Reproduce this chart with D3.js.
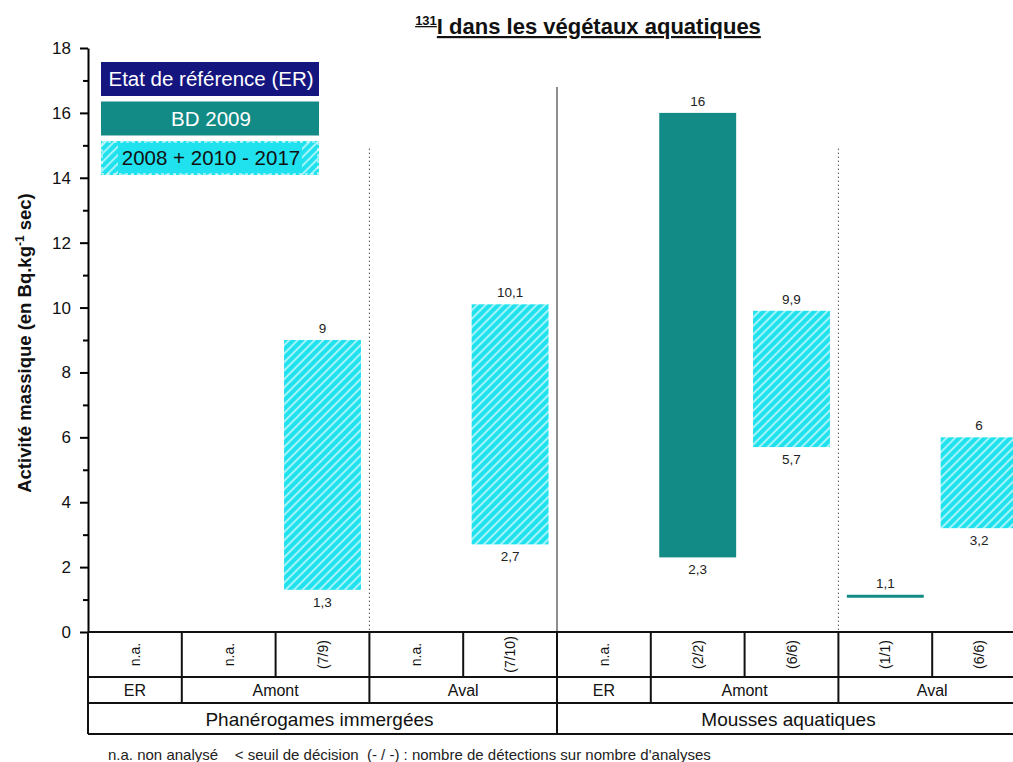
<!DOCTYPE html>
<html>
<head>
<meta charset="utf-8">
<script src="https://cdn.jsdelivr.net/npm/d3@7"></script>
<style>
  body { margin: 0; background: #fff; }
  svg { display: block; font-family: "Liberation Sans", Arial, sans-serif; }
</style>
</head>
<body>
<script>
'use strict';

// one entry per column of the table
const detections = ["n.a.", "n.a.", "(7/9)", "n.a.", "(7/10)", "n.a.", "(2/2)", "(6/6)", "(1/1)", "(6/6)"];
const stations = ["ER", "Amont", "Amont", "Aval", "Aval", "ER", "Amont", "Amont", "Aval", "Aval"];
const groups = ["Phanérogames immergées", "Phanérogames immergées", "Phanérogames immergées", "Phanérogames immergées", "Phanérogames immergées",
  "Mousses aquatiques", "Mousses aquatiques", "Mousses aquatiques", "Mousses aquatiques", "Mousses aquatiques"];
const series = [null, null, "hatch", null, "hatch", null, "bd", "hatch", "bd", "hatch"];
const lows = [null, null, 1.3, null, 2.7, null, 2.3, 5.7, 1.1, 3.2];
const highs = [null, null, 9, null, 10.1, null, 16, 9.9, 1.1, 6];

const legendLabels = ["Etat de référence (ER)", "BD 2009", "2008 + 2010 - 2017"];
const yTicks = [0, 2, 4, 6, 8, 10, 12, 14, 16, 18];
const yMinor = [1, 3, 5, 7, 9, 11, 13, 15, 17];

const colors = { er: "#15157f", bd: "#128a85", hatch: "#20e2ef" };

const W = 1013, H = 762;
const svg = d3.select("body").append("svg").attr("width", W).attr("height", H);

const defs = svg.append("defs");
const pat = defs.append("pattern")
  .attr("id", "hatch")
  .attr("patternUnits", "userSpaceOnUse")
  .attr("width", 6).attr("height", 6)
  .attr("patternTransform", "rotate(45)");
pat.append("rect").attr("width", 6).attr("height", 6).attr("fill", colors.hatch);
pat.append("line").attr("x1", 1).attr("y1", 0).attr("x2", 1).attr("y2", 6)
  .attr("stroke", "#fff").attr("stroke-width", 1.4).attr("opacity", 0.85);

const idx = d3.range(detections.length);
const x = d3.scaleBand().domain(idx).range([88, 88 + 938]).paddingInner(0.18).paddingOuter(0.09);
const y = d3.scaleLinear().domain([0, 18]).range([632, 48]);
const step = x.step();
const colLeft = i => 88 + i * step;

const fmt = v => String(v).replace(".", ",");

// separators between stations / groups
const seps = [
  { at: 3, top: 14.9, dash: "1.5,2.5", w: 1 },
  { at: 5, top: 16.8, dash: null, w: 1.2 },
  { at: 8, top: 14.9, dash: "1.5,2.5", w: 1 }
];
seps.forEach(s => {
  svg.append("line")
    .attr("x1", colLeft(s.at)).attr("x2", colLeft(s.at))
    .attr("y1", y(s.top)).attr("y2", y(0))
    .attr("stroke", s.dash ? "#555" : "#444")
    .attr("stroke-width", s.w)
    .attr("stroke-dasharray", s.dash);
});

// bars
const rows = idx.filter(i => lows[i] !== null);
rows.forEach(i => {
  const bx = x(i), bw = x.bandwidth();
  if (lows[i] === highs[i]) {
    svg.append("line")
      .attr("x1", bx).attr("x2", bx + bw)
      .attr("y1", y(lows[i])).attr("y2", y(lows[i]))
      .attr("stroke", colors.bd).attr("stroke-width", 3);
    svg.append("text")
      .attr("x", bx + bw / 2).attr("y", y(highs[i]) - 8)
      .attr("text-anchor", "middle").attr("font-size", 13.5).attr("fill", "#222")
      .text(fmt(highs[i]));
    return;
  }
  svg.append("rect")
    .attr("x", bx).attr("width", bw)
    .attr("y", y(highs[i])).attr("height", y(lows[i]) - y(highs[i]))
    .attr("fill", series[i] === "bd" ? colors.bd : "url(#hatch)");
  svg.append("text")
    .attr("x", bx + bw / 2).attr("y", y(highs[i]) - 7)
    .attr("text-anchor", "middle").attr("font-size", 13.5).attr("fill", "#222")
    .text(fmt(highs[i]));
  svg.append("text")
    .attr("x", bx + bw / 2).attr("y", y(lows[i]) + 17)
    .attr("text-anchor", "middle").attr("font-size", 13.5).attr("fill", "#222")
    .text(fmt(lows[i]));
});

// y axis
const yAxis = d3.axisLeft(y).tickValues(yTicks).tickSize(8).tickSizeOuter(0).tickPadding(9);
const gy = svg.append("g").attr("transform", "translate(88,0)").call(yAxis);
gy.select(".domain").attr("stroke-width", 2);
gy.selectAll(".tick line").attr("stroke-width", 2);
gy.selectAll(".tick text").attr("font-size", 17).attr("fill", "#111")
  .style("font-family", "'Liberation Sans', Arial, sans-serif");
const gm = svg.append("g").attr("transform", "translate(88,0)")
  .call(d3.axisLeft(y).tickValues(yMinor).tickSize(5).tickSizeOuter(0).tickFormat(""));
gm.select(".domain").remove();
gm.selectAll(".tick line").attr("stroke-width", 2);

// y label
svg.append("text")
  .attr("transform", "translate(31,343) rotate(-90)")
  .attr("text-anchor", "middle")
  .attr("font-size", 18.5).attr("font-weight", "bold").attr("fill", "#111")
  .html('Activité massique (en Bq.kg<tspan dy="-7" font-size="12">-1</tspan><tspan dy="7"> sec)</tspan>');

// title
svg.append("text")
  .attr("x", 588).attr("y", 34)
  .attr("text-anchor", "middle")
  .attr("font-size", 22).attr("font-weight", "bold").attr("fill", "#111")
  .attr("text-decoration", "underline")
  .html('<tspan dy="-9" font-size="13">131</tspan><tspan dy="9">I dans les végétaux aquatiques</tspan>');

// legend
const legend = [
  { fill: colors.er, text: "#fff" },
  { fill: colors.bd, text: "#fff" },
  { fill: "url(#hatch)", text: "#111" }
];
legend.forEach((l, i) => {
  const ly = 62 + i * 39.5, lh = 34;
  svg.append("rect").attr("x", 101).attr("y", ly).attr("width", 218).attr("height", lh).attr("fill", l.fill);
  if (i === 2) {
    svg.append("rect").attr("x", 118).attr("y", ly + 1).attr("width", 184).attr("height", lh - 2).attr("fill", colors.hatch);
    svg.append("rect").attr("x", 102).attr("y", ly + 1).attr("width", 216).attr("height", lh - 2)
      .attr("fill", "none").attr("stroke", "#fff").attr("stroke-width", 1).attr("stroke-dasharray", "3,3");
  }
  svg.append("text")
    .attr("x", 211).attr("y", ly + lh / 2 + 7)
    .attr("text-anchor", "middle").attr("font-size", 20.5).attr("fill", l.text)
    .text(legendLabels[i]);
});

// table below the axis
const t0 = 632, t1 = 677, t2 = 703, t3 = 734;
const tbl = svg.append("g").attr("stroke", "#111").attr("stroke-width", 2);
tbl.append("line").attr("x1", 88).attr("x2", W + 20).attr("y1", t0).attr("y2", t0);
[t1, t2, t3].forEach(ty => tbl.append("line").attr("x1", 88).attr("x2", W + 20).attr("y1", ty).attr("y2", ty));
tbl.append("line").attr("x1", 88).attr("x2", 88).attr("y1", t0).attr("y2", t3);

idx.forEach(i => {
  tbl.append("line").attr("x1", colLeft(i + 1)).attr("x2", colLeft(i + 1)).attr("y1", t0).attr("y2", t1);
  svg.append("text")
    .attr("transform", `translate(${colLeft(i) + step / 2 + 5},${(t0 + t1) / 2}) rotate(-90)`)
    .attr("text-anchor", "middle").attr("font-size", 14).attr("fill", "#111")
    .text(detections[i]);
});

// merged station cells
const stationCells = [];
idx.forEach(i => {
  const last = stationCells[stationCells.length - 1];
  if (last && last.name === stations[i] && last.group === groups[i]) last.end = i;
  else stationCells.push({ name: stations[i], group: groups[i], start: i, end: i });
});
stationCells.forEach(c => {
  tbl.append("line").attr("x1", colLeft(c.end + 1)).attr("x2", colLeft(c.end + 1)).attr("y1", t1).attr("y2", t2);
  svg.append("text")
    .attr("x", (colLeft(c.start) + colLeft(c.end + 1)) / 2).attr("y", (t1 + t2) / 2 + 6)
    .attr("text-anchor", "middle").attr("font-size", 16).attr("fill", "#111")
    .text(c.name);
});

const groupCells = [];
idx.forEach(i => {
  const last = groupCells[groupCells.length - 1];
  if (last && last.name === groups[i]) last.end = i;
  else groupCells.push({ name: groups[i], start: i, end: i });
});
groupCells.forEach(c => {
  tbl.append("line").attr("x1", colLeft(c.end + 1)).attr("x2", colLeft(c.end + 1)).attr("y1", t2).attr("y2", t3);
  svg.append("text")
    .attr("x", (colLeft(c.start) + colLeft(c.end + 1)) / 2 - 3).attr("y", (t2 + t3) / 2 + 7)
    .attr("text-anchor", "middle").attr("font-size", 19).attr("fill", "#111")
    .text(c.name);
});

// footnote
svg.append("text")
  .attr("x", 108).attr("y", 760)
  .attr("font-size", 15).attr("fill", "#222")
  .attr("xml:space", "preserve")
  .text("n.a. non analysé    < seuil de décision  (- / -) : nombre de détections sur nombre d'analyses");
</script>
</body>
</html>
